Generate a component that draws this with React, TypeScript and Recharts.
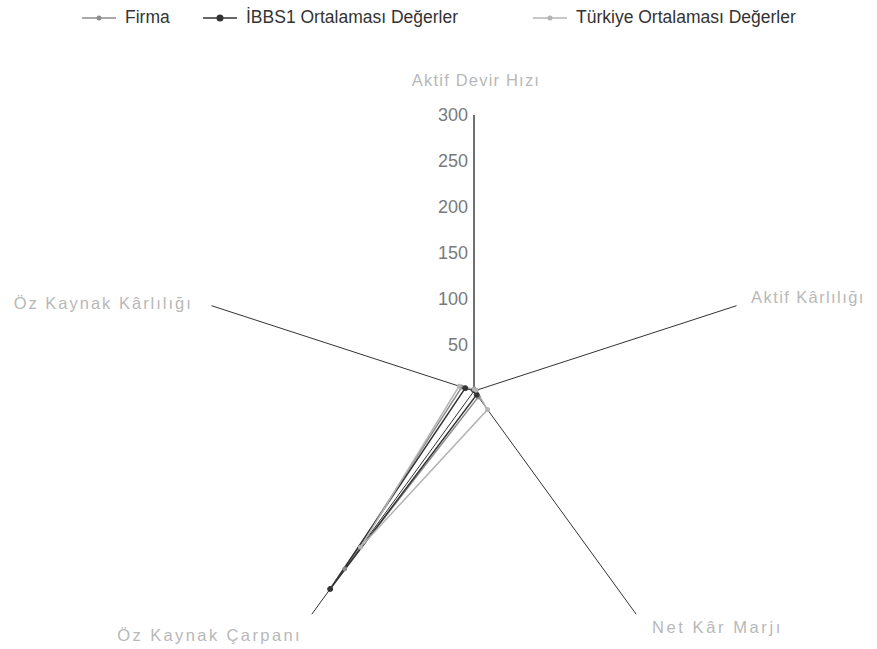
import React from 'react';
import { RadarChart, Radar, PolarGrid, PolarAngleAxis, PolarRadiusAxis, Legend } from 'recharts';

const categories = ['Aktif Devir Hızı', 'Aktif Kârlılığı', 'Net Kâr Marjı', 'Öz Kaynak Çarpanı', 'Öz Kaynak Kârlılığı'];
const firma = [1.5, 2, 8, 239, 14];
const ibbs1 = [1, 1.5, 5, 266, 10];
const turkiye = [2, 2.5, 25, 210, 17];
const radiusTicks = [0, 50, 100, 150, 200, 250, 300];
const seriesNames = ['Firma', 'İBBS1 Ortalaması Değerler', 'Türkiye Ortalaması Değerler'];
const seriesKeys = ['firma', 'ibbs1', 'turkiye'];
const seriesColors = ['#8c8c8c', '#333333', '#b4b4b4'];

const data = categories.map((c, i) => ({
  subject: c,
  firma: firma[i],
  ibbs1: ibbs1[i],
  turkiye: turkiye[i],
}));

const labelOffsets = [
  { dx: 2, dy: -21, anchor: 'middle', ls: 1.2 },
  { dx: 7, dy: 0, anchor: 'start', ls: 1.4 },
  { dx: 11, dy: 12, anchor: 'start', ls: 2.6 },
  { dx: -5, dy: 20, anchor: 'end', ls: 2.4 },
  { dx: -11, dy: 6, anchor: 'end', ls: 2.0 },
];

const legendLeft = [82, 203, 533];

const AngleTick = (props: any) => {
  const { x, y, payload, index } = props;
  const o = labelOffsets[index] || { dx: 0, dy: 0, anchor: 'middle', ls: 1 };
  return (
    <text
      x={x + o.dx}
      y={y + o.dy}
      textAnchor={o.anchor}
      fill="#b8b8b8"
      fontSize={16.5}
      letterSpacing={o.ls}
      fontFamily="'Liberation Sans', Arial, sans-serif"
    >
      {payload.value}
    </text>
  );
};

const RadiusTick = (props: any) => {
  const { x, y, payload } = props;
  if (payload.value === 0) return null;
  return (
    <text
      x={x - 6}
      y={y + 6}
      textAnchor="end"
      fill="#7a7a7a"
      fontSize={18}
      fontFamily="'Liberation Sans', Arial, sans-serif"
    >
      {payload.value}
    </text>
  );
};

const Dot = (color: string, r: number) => (props: any) => {
  const { cx, cy, index } = props;
  return <circle key={index} cx={cx} cy={cy} r={r} fill={color} stroke={color} strokeWidth={1} />;
};

const LegendContent = () => (
  <div
    style={{
      position: 'relative',
      height: 24,
      fontFamily: "'Liberation Sans', Arial, sans-serif",
      fontSize: 17.5,
      color: '#333',
    }}
  >
    {seriesNames.map((n, i) => (
      <div
        key={n}
        style={{ position: 'absolute', left: legendLeft[i], top: 0, display: 'flex', alignItems: 'center', whiteSpace: 'nowrap' }}
      >
        <svg width={34} height={10} style={{ marginRight: 9 }}>
          <line x1={0} y1={5} x2={34} y2={5} stroke={seriesColors[i]} strokeWidth={1.5} />
          <circle cx={17} cy={5} r={i === 1 ? 3.5 : 2.5} fill={seriesColors[i]} />
        </svg>
        <span>{n}</span>
      </div>
    ))}
  </div>
);

export default function App() {
  return (
    <div style={{ position: 'absolute', left: 0, top: 0, background: '#fff' }}>
      <RadarChart
        width={877}
        height={649}
        data={data}
        cx={474}
        cy={391}
        outerRadius={276}
        margin={{ top: 0, right: 0, bottom: 0, left: 0 }}
      >
        <PolarGrid gridType="polygon" polarRadius={[]} stroke="#333" strokeWidth={1} />
        <PolarAngleAxis dataKey="subject" tick={<AngleTick />} axisLine={false} tickLine={false} />
        <PolarRadiusAxis
          angle={90}
          domain={[0, 300]}
          ticks={radiusTicks}
          tickCount={7}
          axisLine={{ stroke: '#444' }}
          tickLine={false}
          tick={<RadiusTick />}
        />
        {seriesKeys.map((k, i) => (
          <Radar
            key={k}
            name={seriesNames[i]}
            dataKey={k}
            stroke={seriesColors[i]}
            strokeWidth={1.5}
            fill="none"
            fillOpacity={0}
            dot={Dot(seriesColors[i], i === 1 ? 2.5 : 2)}
            isAnimationActive={false}
          />
        ))}
        <Legend
          verticalAlign="top"
          align="left"
          content={<LegendContent />}
          wrapperStyle={{ top: 7, left: 0, width: 877 }}
        />
      </RadarChart>
    </div>
  );
}
